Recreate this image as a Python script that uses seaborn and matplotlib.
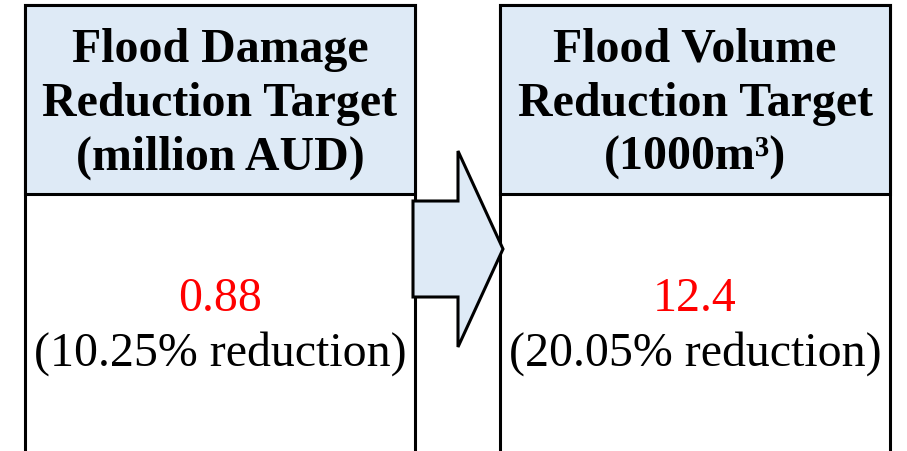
import matplotlib
matplotlib.use("Agg")
import matplotlib.pyplot as plt
import seaborn as sns
from matplotlib.patches import Rectangle, Polygon

# content of the two target boxes
titles = ["Flood Damage\nReduction Target\n(million AUD)",
          "Flood Volume\nReduction Target\n(1000m³)"]
values = ["0.88", "12.4"]
notes = ["(10.25% reduction)", "(20.05% reduction)"]

sns.set_theme(style="white")
plt.rcParams['font.family'] = ['Liberation Serif', 'DejaVu Serif']

fig = plt.figure(figsize=(9.07, 4.52), dpi=100)
ax = fig.add_axes([0, 0, 1, 1])
ax.set_xlim(0, 907)
ax.set_ylim(452, 0)
ax.axis("off")

fill = "#DEEAF6"
box_x = [25, 500]
box_w = 390
head_h = 189

for i in range(2):
    x0 = box_x[i]
    ax.add_patch(Rectangle((x0, 6), box_w, 460, facecolor="white",
                           edgecolor="black", lw=2.2, zorder=1))
    ax.add_patch(Rectangle((x0, 6), box_w, head_h, facecolor=fill,
                           edgecolor="black", lw=2.2, zorder=2))
    cx = x0 + box_w / 2
    ax.text(cx, 104, titles[i], ha="center", va="center", fontsize=34.5,
            fontweight="bold", linespacing=1.3, color="black", zorder=3)
    ax.text(cx, 299, values[i], ha="center", va="center", fontsize=34.5,
            color="#FF0000", zorder=3)
    ax.text(cx, 354, notes[i], ha="center", va="center", fontsize=34.5,
            color="black", zorder=3)

# block arrow between the boxes
arrow = [(413, 202), (458, 202), (458, 152), (503, 250),
         (458, 348), (458, 298), (413, 298)]
ax.add_patch(Polygon(arrow, closed=True, facecolor=fill, edgecolor="black",
                     lw=2.2, joinstyle="miter", zorder=4))

fig.savefig("out.png", dpi=100)
